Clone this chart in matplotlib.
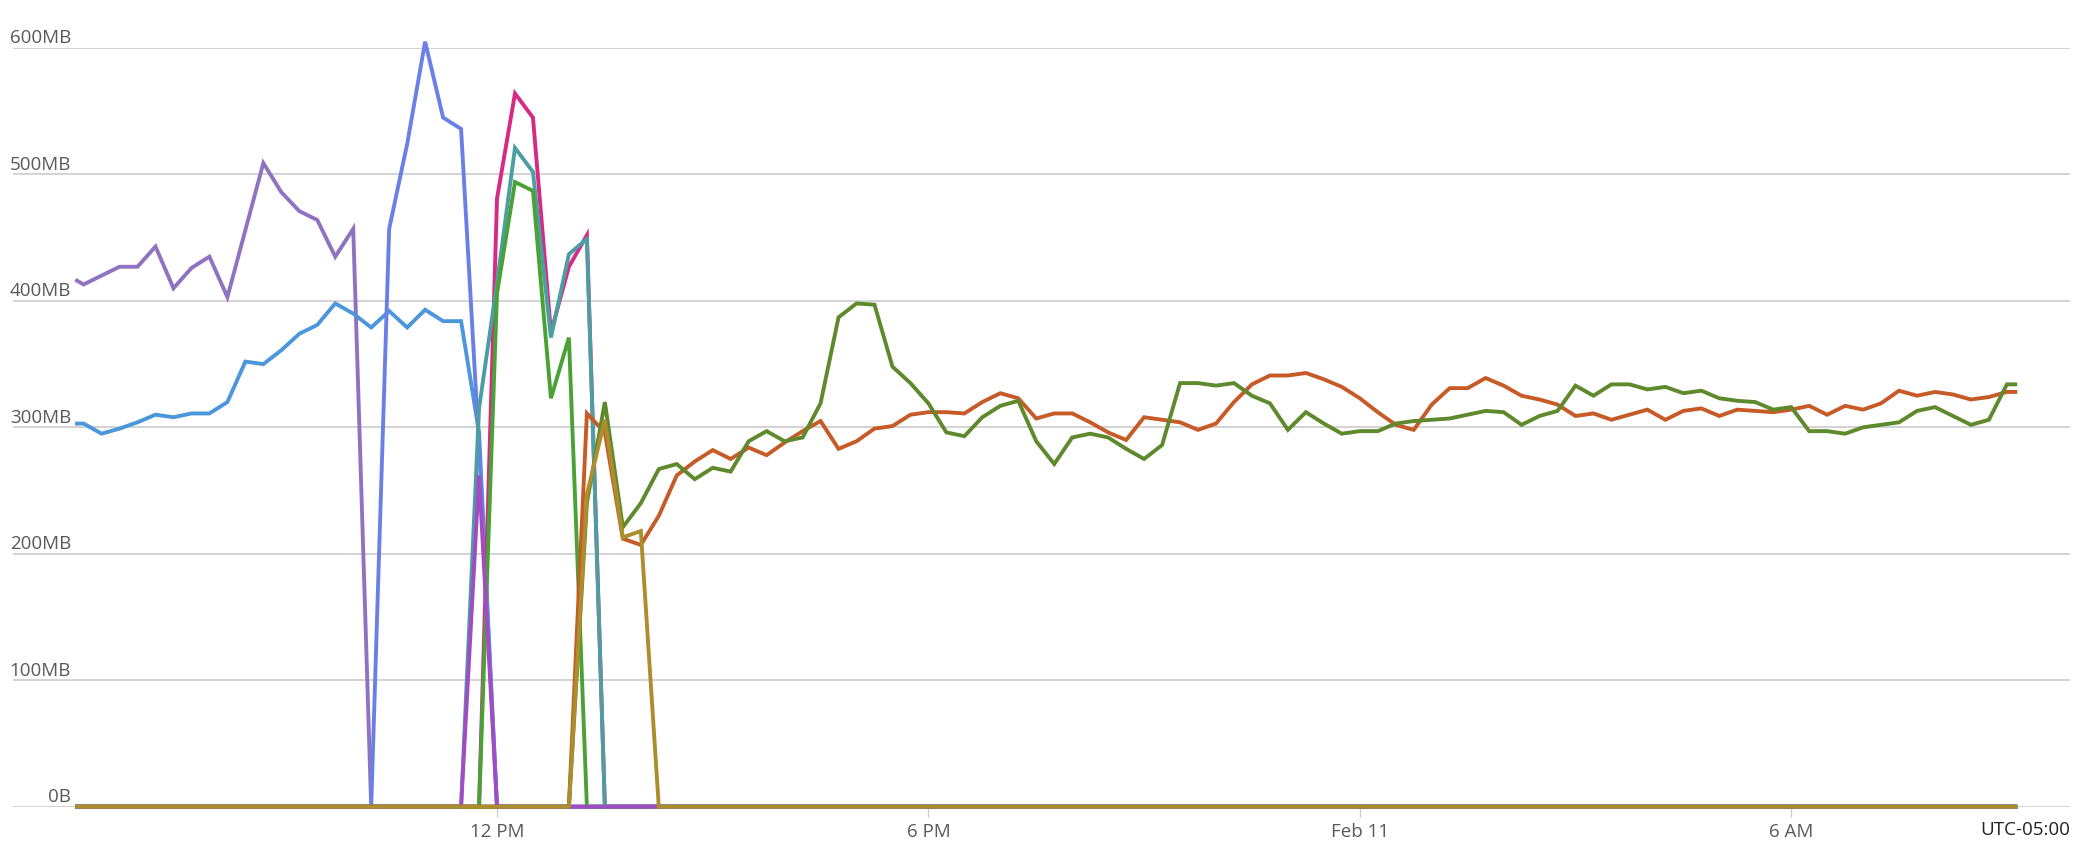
import numpy as np
import pandas as pd
import matplotlib
matplotlib.use('Agg')
import matplotlib.pyplot as plt
import matplotlib.transforms as mtransforms

plt.rcParams['font.family'] = ['Open Sans', 'DejaVu Sans']

# 15 minute samples, plus the ragged first / last sample of the window
times = ([pd.Timestamp('2024-02-10 06:09:30')]
         + list(pd.date_range('2024-02-10 06:15', '2024-02-11 09:00', freq='15min'))
         + [pd.Timestamp('2024-02-11 09:07')])

# memory per instance, MB (0 when the instance was not reporting)
purple_mb = [416, 413, 420, 427, 427, 443, 410, 426, 435, 403, 456, 509, 486, 471,
             464, 435, 457] + [0] * 93
blue_mb = [303, 303, 295, 299, 304, 310, 308, 311, 311, 320, 352, 350, 361, 374,
           381, 398, 390, 379, 392, 379, 393, 384, 384, 296] + [0] * 86
periwinkle_mb = [0] * 18 + [457, 524, 605, 545, 536, 285] + [0] * 86
pink_mb = [0] * 24 + [481, 564, 545, 375, 427, 452] + [0] * 80
teal_mb = [0] * 23 + [315, 414, 521, 502, 371, 437, 449] + [0] * 80
green_mb = [0] * 24 + [406, 494, 487, 323, 371] + [0] * 81
orange_mb = [0] * 29 + [
    311, 296, 212, 207, 230, 262, 273, 282, 275, 284,
    278, 288, 297, 305, 283, 289, 299, 301, 310, 312,
    312, 311, 320, 327, 323, 307, 311, 311, 304, 296,
    290, 308, 306, 304, 298, 303, 320, 334, 341, 341,
    343, 338, 332, 323, 312, 302, 298, 318, 331, 331,
    339, 333, 325, 322, 318, 309, 311, 306, 310, 314,
    306, 313, 315, 309, 314, 313, 312, 314, 317, 310,
    317, 314, 319, 329, 325, 328, 326, 322, 324, 328, 328]
olive_mb = [0] * 29 + [
    240, 320, 221, 240, 267, 271, 259, 268, 265, 289,
    297, 289, 292, 319, 387, 398, 397, 348, 335, 319,
    296, 293, 308, 317, 321, 289, 271, 292, 295, 292,
    283, 275, 286, 335, 335, 333, 335, 325, 319, 298,
    312, 303, 295, 297, 297, 303, 305, 306, 307, 310,
    313, 312, 302, 309, 313, 333, 325, 334, 334, 330,
    332, 327, 329, 323, 321, 320, 314, 316, 297, 297,
    295, 300, 302, 304, 313, 316, 309, 302, 306, 334, 334]
magenta_mb = [0] * 23 + [262] + [0] * 86
gold_mb = [0] * 29 + [247, 306, 213, 218] + [0] * 77

series = [
    (purple_mb, '#8e73c1'),
    (blue_mb, '#4c97dc'),
    (periwinkle_mb, '#6a80e6'),
    (pink_mb, '#d62a85'),
    (teal_mb, '#4d9ea3'),
    (green_mb, '#4aa236'),
    (orange_mb, '#c65b27'),
    (olive_mb, '#5f892d'),
    (magenta_mb, '#a24cc4'),
    (gold_mb, '#ad8e2c'),
]

y_ticks = [0, 100, 200, 300, 400, 500, 600]
y_labels = ['0B', '100MB', '200MB', '300MB', '400MB', '500MB', '600MB']
x_ticks = [pd.Timestamp('2024-02-10 12:00'), pd.Timestamp('2024-02-10 18:00'),
           pd.Timestamp('2024-02-11 00:00'), pd.Timestamp('2024-02-11 06:00')]
x_labels = ['12 PM', '6 PM', 'Feb 11', '6 AM']

W, H = 2094, 848
fig = plt.figure(figsize=(W / 100, H / 100), dpi=100)
ax = fig.add_axes([13 / W, (H - 806.7) / H, (2070 - 13) / W, (806.7 - 48) / H])

for vals, col in series:
    ax.plot(times, vals, color=col, lw=2.8, clip_on=False,
            solid_joinstyle='miter', zorder=3)

ax.set_ylim(0, 600)
ax.set_xlim(pd.Timestamp('2024-02-10 05:16:05'), pd.Timestamp('2024-02-11 09:52:40'))

ax.set_yticks(y_ticks)
ax.yaxis.grid(True, color='#cccccc', lw=1.2)
ax.set_axisbelow(True)
ax.tick_params(axis='y', length=0, labelleft=False)

ax.set_xticks(x_ticks)
ax.set_xticklabels(x_labels)
ax.tick_params(axis='x', length=7.5, width=1, color='#cccccc', pad=4.5,
               labelsize=13.5, labelcolor='#595959')

for s in ax.spines.values():
    s.set_visible(False)

# y labels sit above their gridline, right aligned near the left edge
trans = mtransforms.blended_transform_factory(fig.transFigure, ax.transData)
trans = mtransforms.offset_copy(trans, fig=fig, y=4.5, units='dots')
for v, lab in zip(y_ticks, y_labels):
    ax.text(71 / W, v, lab, transform=trans, ha='right', va='baseline',
            fontsize=13.5, color='#595959')

fig.text(2070 / W, (H - 821) / H, 'UTC-05:00', ha='right', va='top',
         fontsize=13.5, color='#222222')

fig.savefig('out.png', dpi=100)
